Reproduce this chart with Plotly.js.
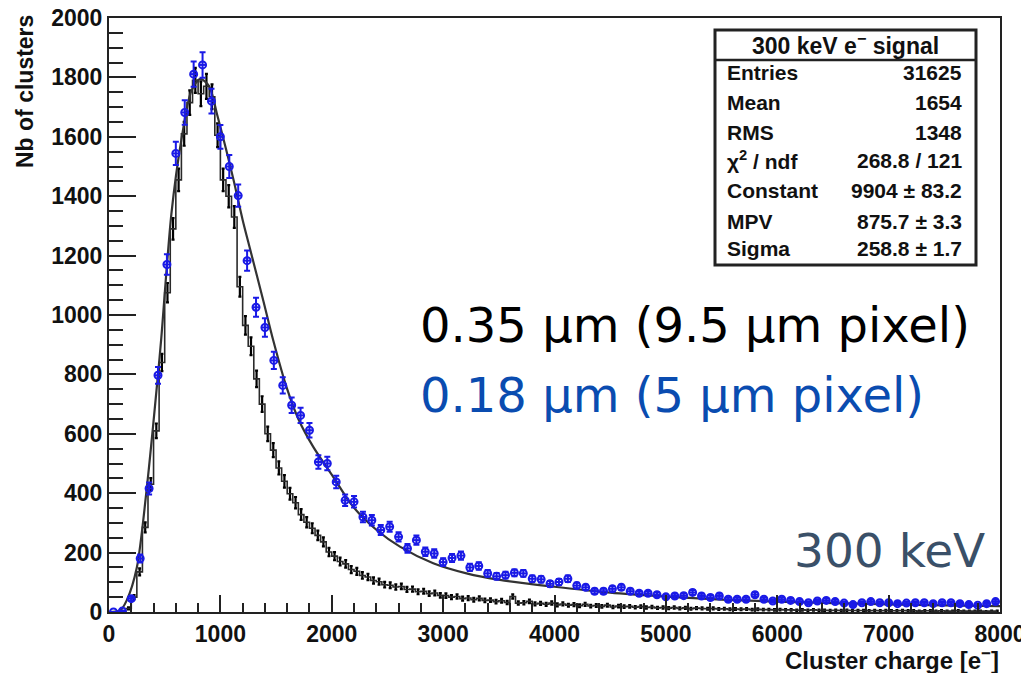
<!DOCTYPE html>
<html>
<head>
<meta charset="utf-8">
<script src="https://cdn.plot.ly/plotly-3.0.1.min.js"></script>
<style>html,body{margin:0;padding:0;background:#fff;overflow:hidden;}#chart{width:1021px;height:673px;}</style>
</head>
<body>
<div id="chart"></div>
<script>
// 0.18 um (5 um pixel) data points: bin centers and counts
const blueX = [40,120,200,280,360,440,520,600,680,760,840,920,1000,1080,1160,1240,1320,1400,1480,1560,
  1640,1720,1800,1880,1960,2040,2120,2200,2280,2360,2440,2520,2600,2680,2760,2840,2920,3000,3080,3160,
  3240,3320,3400,3480,3560,3640,3720,3800,3880,3960,4040,4120,4200,4280,4360,4440,4520,4600,4680,4760,
  4840,4920,5000,5080,5160,5240,5320,5400,5480,5560,5640,5720,5800,5880,5960,6040,6120,6200,6280,6360,
  6440,6520,6600,6680,6760,6840,6920,7000,7080,7160,7240,7320,7400,7480,7560,7640,7720,7800,7880,7960];
const blueY = [0,3,45,180,416,797,1170,1544,1682,1811,1842,1720,1600,1500,1402,1183,1026,958,847,763,
  696,662,612,505,500,438,376,371,320,309,276,287,253,214,242,203,197,168,182,190,
  150,155,130,120,124,132,130,112,110,95,101,112,89,83,70,70,78,83,70,63,
  63,58,51,54,55,66,54,49,54,43,43,43,58,43,37,43,39,35,31,37,
  39,35,30,25,31,35,31,31,28,30,31,31,28,31,31,28,25,23,28,35];

// 0.35 um (9.5 um pixel) histogram: bin centers and counts
const blackX = [25,75,125,175,225,275,325,375,425,475,525,575,625,675,725,775,825,875,925,975,
  1025,1075,1125,1175,1225,1275,1325,1375,1425,1475,1525,1575,1625,1675,1725,1775,1825,1875,1925,1975,
  2025,2075,2125,2175,2225,2275,2325,2375,2425,2475,2525,2575,2625,2675,2725,2775,2825,2875,2925,2975,
  3025,3075,3125,3175,3225,3275,3325,3375,3425,3475,3525,3575,3625,3675,3725,3775,3825,3875,3925,3975,
  4025,4075,4125,4175,4225,4275,4325,4375,4425,4475,4525,4575,4625,4675,4725,4775,4825,4875,4925,4975,
  5025,5075,5125,5175,5225,5275,5325,5375,5425,5475,5525,5575,5625,5675,5725,5775,5825,5875,5925,5975,
  6025,6075,6125,6175,6225,6275,6325,6375,6425,6475,6525,6575,6625,6675,6725,6775,6825,6875,6925,6975,
  7025,7075,7125,7175,7225,7275,7325,7375,7425,7475,7525,7575,7625,7675,7725,7775,7825,7875,7925,7975];
const blackY = [0,0,1,12,50,135,285,430,610,840,1075,1290,1455,1610,1715,1790,1745,1770,1735,1605,
  1455,1400,1330,1095,965,895,785,700,600,545,485,440,398,368,328,302,282,258,236,202,
  188,170,162,143,137,123,118,106,102,92,90,84,86,76,77,68,70,62,64,56,
  55,50,52,45,47,41,46,39,40,35,38,32,52,30,31,36,27,29,26,30,
  24,27,23,25,21,26,20,22,19,23,17,20,18,19,16,18,15,17,14,15,
  13,15,12,14,11,13,12,11,12,10,11,9,10,9,10,8,9,8,8,7,
  8,7,7,6,7,6,7,6,6,5,6,5,6,5,5,5,4,5,4,5,
  4,4,5,4,4,3,4,4,3,4,3,3,4,3,3,3,3,2,3,3];

// Landau fit curve
const fitX = [0,100,160,250,340,440,470,560,650,740,820,900,970,1050,1120,1200,1270,1385,1475,1594,
  1700,1834,2013,2193,2403,2612,2911,3210,3510,4000,4500,5000,5500,6000,6500,7000,7500,8000];
const fitY = [0,5,40,150,420,800,925,1340,1590,1755,1795,1770,1676,1560,1452,1320,1217,1049,914,757,
  650,556,455,354,276,220,164,130,108,85,65,52,42,35,30,26,22,20];

const xTicks = [0,1000,2000,3000,4000,5000,6000,7000,8000];
const yTicks = [0,200,400,600,800,1000,1200,1400,1600,1800,2000];

const statTitle = '300 keV e<sup>−</sup> signal';
const statNames = ['Entries','Mean','RMS','χ<sup>2</sup> / ndf','Constant','MPV','Sigma'];
const statValues = ['31625','1654','1348','268.8 / 121','9904 ± 83.2','875.7 ± 3.3','258.8 ± 1.7'];

const labelBlack = '0.35 μm (9.5 μm pixel)';
const labelBlue = '0.18 μm (5 μm pixel)';
const labelEnergy = '300 keV';

// geometry helpers (pixel -> paper)
const L = 109, R = 1000, T = 18, B = 612;
const px = v => (v - L) / (R - L);
const py = v => (B - v) / (B - T);

const rootFont = {family: 'Liberation Sans, Arial, sans-serif', size: 23, color: '#111', weight: 'bold'};
const statFont = {family: 'Liberation Sans, Arial, sans-serif', size: 21, color: '#111', weight: 'bold'};

const traces = [
  {
    x: blackX, y: blackY, type: 'scatter', mode: 'lines',
    line: {shape: 'hvh', color: '#2a2a2a', width: 1.6},
    error_y: {type: 'sqrt', visible: true, color: '#000', thickness: 2.2, width: 1.5},
    hoverinfo: 'skip', showlegend: false
  },
  {
    x: fitX, y: fitY, type: 'scatter', mode: 'lines',
    line: {shape: 'spline', smoothing: 0.8, color: '#333', width: 2.2},
    hoverinfo: 'skip', showlegend: false
  },
  {
    x: blueX, y: blueY, type: 'scatter', mode: 'markers',
    marker: {symbol: 'circle-open', size: 7, color: '#1a1ae6', line: {width: 2, color: '#1a1ae6'}},
    error_y: {type: 'sqrt', visible: true, color: '#1a1ae6', thickness: 2, width: 3},
    error_x: {type: 'constant', value: 30, visible: true, color: '#1a1ae6', thickness: 2, width: 0},
    hoverinfo: 'skip', showlegend: false
  }
];

const annotations = [];
// stat box title
annotations.push({xref: 'paper', yref: 'paper', x: (px(714) + px(976)) / 2, y: py(44), text: statTitle,
  showarrow: false, xanchor: 'center', yanchor: 'middle', font: {...statFont, size: 23}});
const rowY = [73, 103, 132, 160, 191, 221, 249];
statNames.forEach((n, i) => {
  annotations.push({xref: 'paper', yref: 'paper', x: px(725), y: py(rowY[i]), text: n,
    showarrow: false, xanchor: 'left', yanchor: 'middle', font: statFont});
  annotations.push({xref: 'paper', yref: 'paper', x: px(964), y: py(rowY[i]), text: statValues[i],
    showarrow: false, xanchor: 'right', yanchor: 'middle', font: statFont});
});
// axis titles
annotations.push({xref: 'paper', yref: 'paper', x: px(25), y: py(92), text: 'Nb of clusters', textangle: -90,
  showarrow: false, xanchor: 'center', yanchor: 'middle', font: {...rootFont, size: 23}});
annotations.push({xref: 'paper', yref: 'paper', x: px(1001), y: py(659), text: 'Cluster charge [e<sup>−</sup>]',
  showarrow: false, xanchor: 'right', yanchor: 'middle', font: {...rootFont, size: 24}});
// overlay labels
const bigFont = {family: 'DejaVu Sans, Verdana, sans-serif', size: 48};
annotations.push({xref: 'paper', yref: 'paper', x: px(418), y: py(325), text: labelBlack,
  showarrow: false, xanchor: 'left', yanchor: 'middle', font: {...bigFont, color: '#000'}});
annotations.push({xref: 'paper', yref: 'paper', x: px(418), y: py(395), text: labelBlue,
  showarrow: false, xanchor: 'left', yanchor: 'middle', font: {...bigFont, color: '#0a4cb0'}});
annotations.push({xref: 'paper', yref: 'paper', x: px(987), y: py(550), text: labelEnergy,
  showarrow: false, xanchor: 'right', yanchor: 'middle', font: {...bigFont, size: 47, color: '#3a5068'}});

const shapes = [
  {type: 'rect', xref: 'paper', yref: 'paper', x0: px(715), x1: px(976), y0: py(30), y1: py(265),
    line: {color: '#222', width: 3}, fillcolor: '#fff', layer: 'above'},
  {type: 'line', xref: 'paper', yref: 'paper', x0: px(715), x1: px(976), y0: py(60), y1: py(60),
    line: {color: '#222', width: 2.5}, layer: 'above'}
];

const layout = {
  width: 1021, height: 673,
  margin: {l: L, r: 1021 - R, t: T, b: 673 - B},
  paper_bgcolor: '#fff', plot_bgcolor: '#fff',
  showlegend: false,
  xaxis: {
    range: [0, 8000], tickvals: xTicks, ticktext: xTicks.map(String),
    ticks: 'inside', ticklen: 17, tickwidth: 2, tickcolor: '#222',
    minor: {dtick: 200, tick0: 0, ticks: 'inside', ticklen: 9, tickwidth: 2, tickcolor: '#222'},
    showline: true, linecolor: '#222', linewidth: 2, mirror: true,
    showgrid: false, zeroline: false, tickfont: rootFont, ticklabeloverflow: 'allow'
  },
  yaxis: {
    range: [0, 2000], tickvals: yTicks, ticktext: yTicks.map(String),
    ticks: 'inside', ticklen: 27, tickwidth: 2, tickcolor: '#222',
    minor: {dtick: 50, tick0: 0, ticks: 'inside', ticklen: 14, tickwidth: 2, tickcolor: '#222'},
    showline: true, linecolor: '#222', linewidth: 2, mirror: true,
    showgrid: false, zeroline: false, tickfont: rootFont, ticklabeloverflow: 'allow'
  },
  annotations: annotations,
  shapes: shapes
};

Plotly.newPlot('chart', traces, layout, {staticPlot: true, displayModeBar: false});
</script>
</body>
</html>
